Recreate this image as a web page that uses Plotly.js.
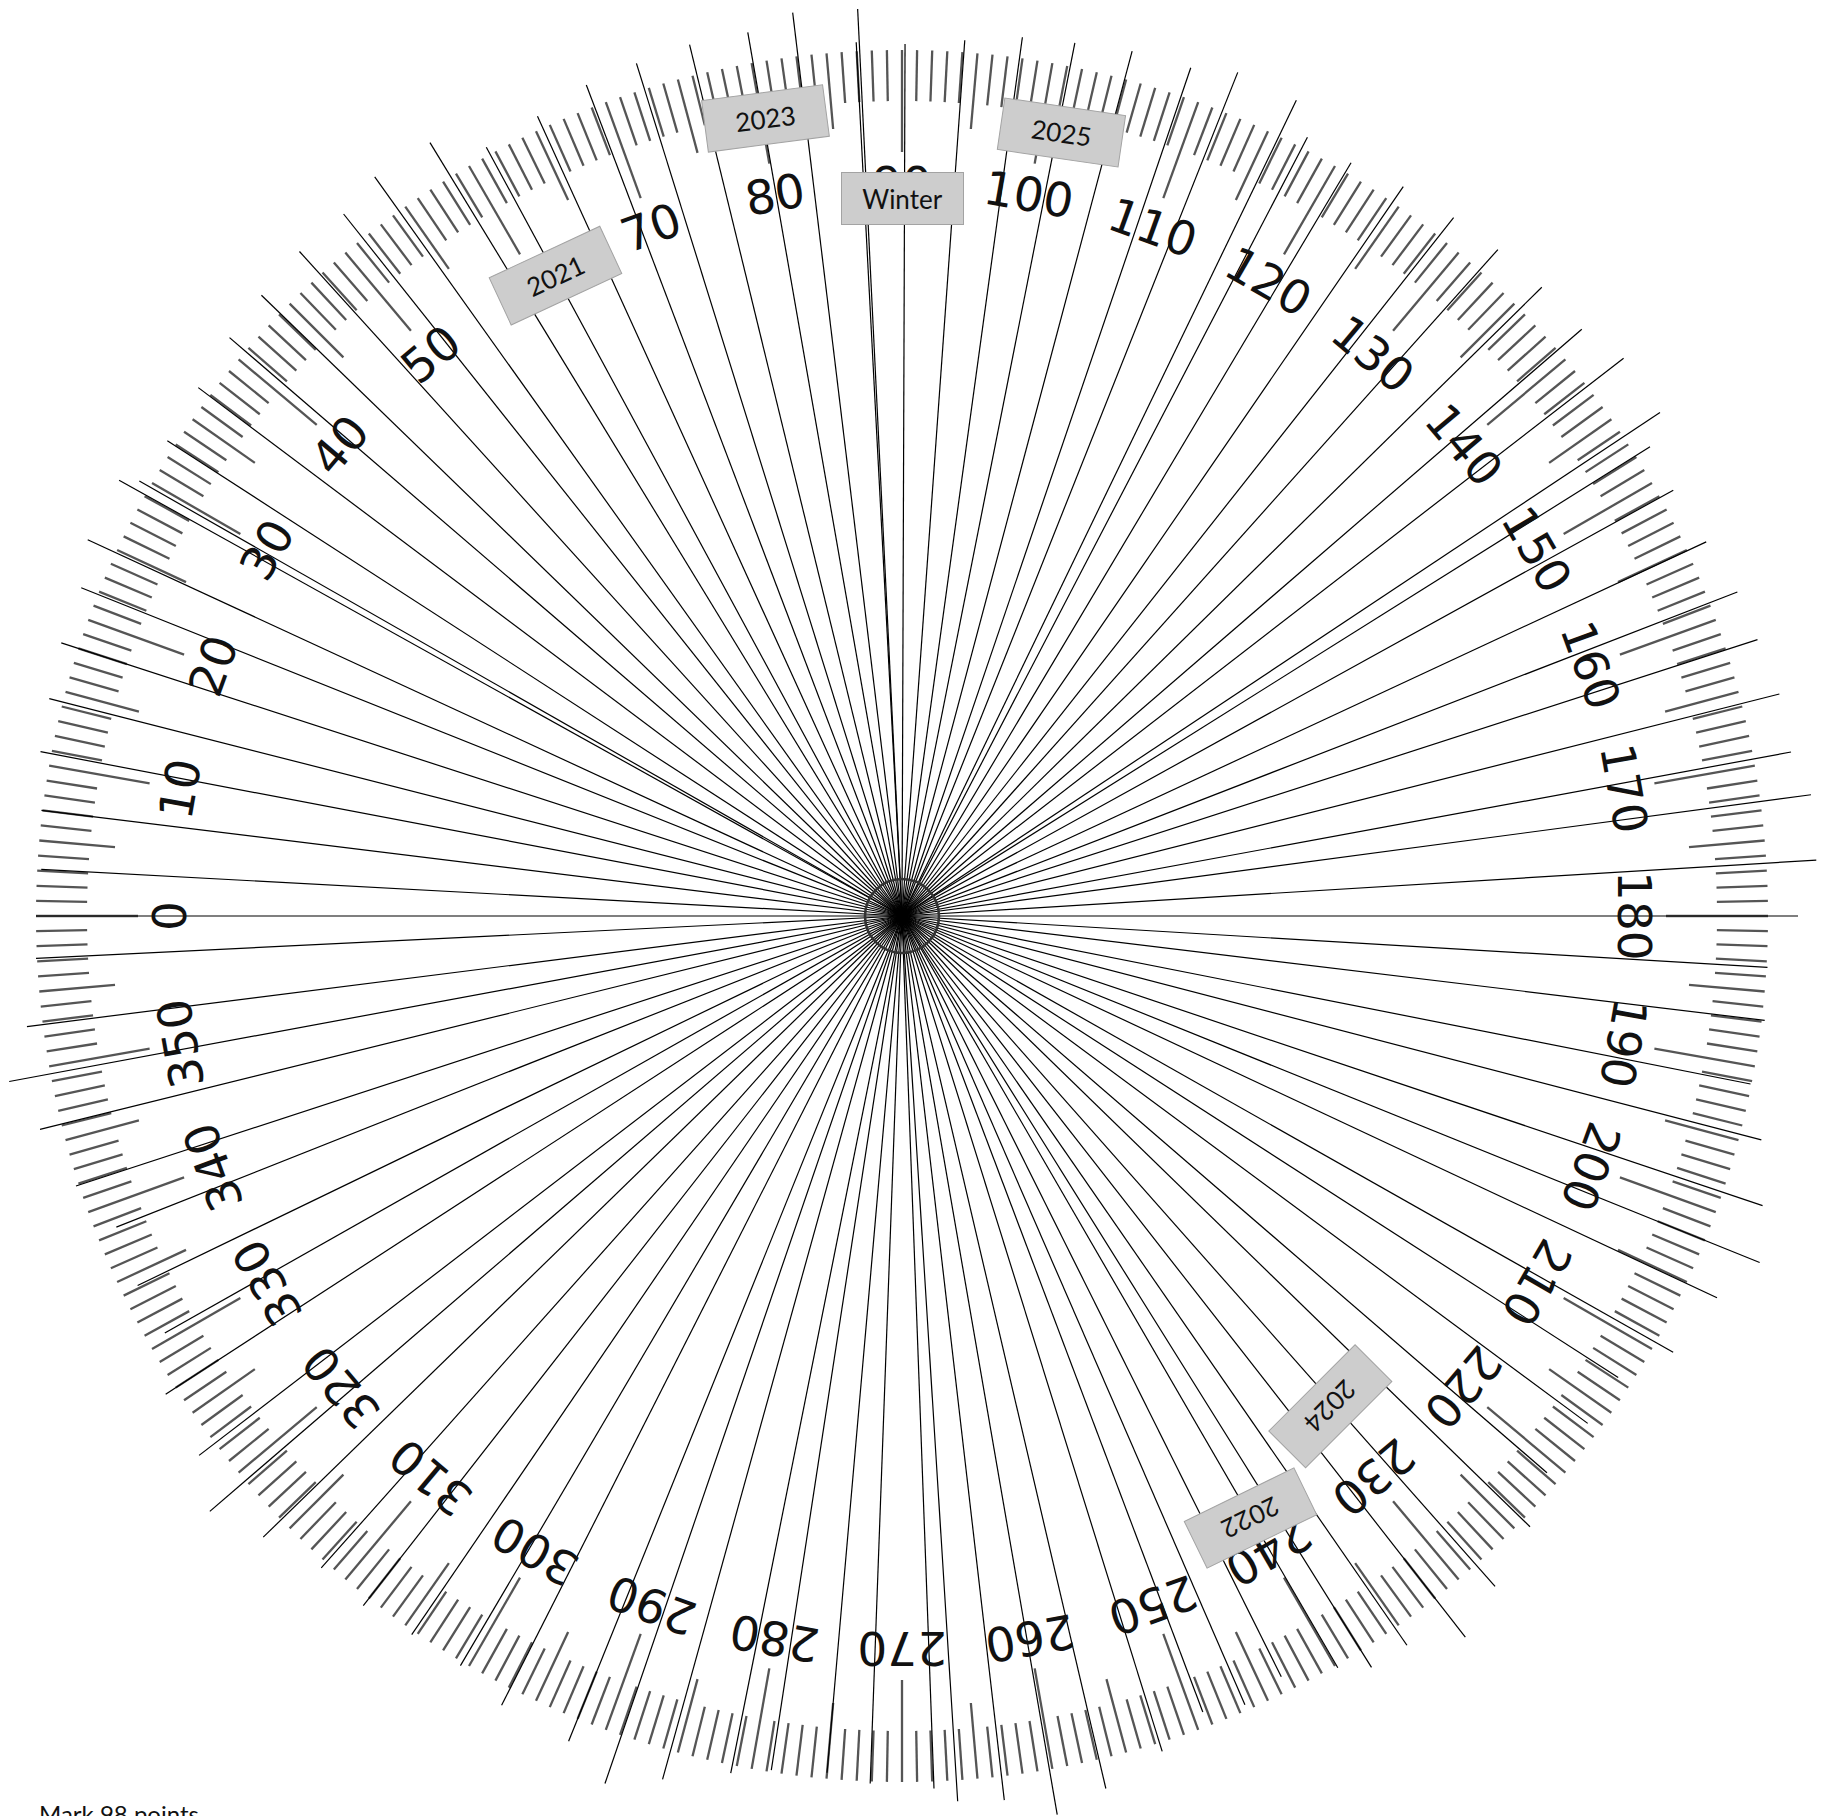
<!DOCTYPE html>
<html><head><meta charset="utf-8">
<script src="https://cdn.plot.ly/plotly-3.0.1.min.js"></script>
<style>html,body{margin:0;padding:0;background:#fff;overflow:hidden}#chart{width:1831px;height:1816px}</style>
</head><body><div id="chart"></div>
<script>
// Marked points: protractor angle (deg; 0 = left, 90 = top, 180 = right, 270 = bottom)
const pointAngles = [0,3.1,7,10.8,14.3,18,21.8,24.8,29.1,29.7,32.9,36.9,40.7,44.1,47.8,51.5,54.5,58.6,61.6,65.5,
  69.2,72.7,76.3,80.1,83.1,87,87.2,90.2,94.1,97.8,101.2,104.9,108.8,111.7,115.8,117.5,120.8,124.5,128.3,131.8,
  135.5,139.2,142.3,146.4,147.9,151.1,155.05,158.8,162.1,165.8,169.55,172.4,176.5,180,183.4,186.9,191.2,194.6,198.6,202,
  205.1,209.5,212.8,216.5,220.8,224.2,228.5,232,235.3,238,239.9,243.5,246.5,249.3,252.7,256.85,260.2,263.4,266.4,267.9,
  272.1,275,278.7,281.3,285.5,288.9,292,296.9,300.5,304.3,308,311.7,315.8,319.3,322.5,327,330.5,334.2,338.4,341.9,
  346.1,349.5,352.8,357.2];
// distance of each marked point from the protractor centre (px of the original drawing)
const pointLengths = [866,862,867,877,880,884,884,897,896,878,875,880,887,892,897,897,908,906,874,879,
  889,893,897,897,910,875,908,872,878,887,890,895,896,908,906,878,877,885,890,894,
  897,898,912,910,883,881,887,896,899,905,904,917,916,896,867,869,865,888,908,925,
  900,886,852,853,852,876,895,915,887,886,869,850,860,851,875,896,912,890,887,873,
  868,860,864,874,896,917,890,885,870,870,875,873,891,913,886,878,847,849,845,869,
  888,908,882,867];
// protractor scale labels
const scaleLabels = [0,10,20,30,40,50,60,70,80,90,100,110,120,130,140,150,160,170,
  180,190,200,210,220,230,240,250,260,270,280,290,300,310,320,330,340,350];
// tag boxes and the angle of the line each one sits on
const tagLabels = ['2021','2023','Winter','2025','2024','2022'];
const tagAngles = [61.6,80.25,90,101.5,228.9,239.9];
const captionText = 'Mark 98 points';

// ---------- presentation settings ----------
const W = 1831, H = 1816, CX = 902, CY = 916;
const tagRadius = [728,809,718,800,651,696];
const tagRotation = [-25,-7.5,0,8.3,135,154];
const RING = 866;

function xy(theta, r){
  const p = (180 - theta) * Math.PI / 180;
  return [r*Math.cos(p), r*Math.sin(p)];
}

// rays from centre to every marked point
const lx = [], ly = [];
pointAngles.forEach((a,i)=>{
  const [x,y] = xy(a, pointLengths[i]);
  lx.push(0, x, null); ly.push(0, y, null);
});

// protractor graduations
const tx = [], ty = [];
for (let d = 0; d < 360; d++){
  const rin = d % 10 === 0 ? 764 : (d % 5 === 0 ? 790 : 815);
  const [x0,y0] = xy(d, rin), [x1,y1] = xy(d, RING);
  tx.push(x0,x1,null); ty.push(y0,y1,null);
}

const traces = [
  {x:tx, y:ty, mode:'lines', line:{color:'#555', width:2.3}, hoverinfo:'skip', cliponaxis:false},
  {x:lx, y:ly, mode:'lines', line:{color:'#000', width:1.2}, hoverinfo:'skip', cliponaxis:false}
];

const annotations = [];
scaleLabels.forEach(v=>{
  const [x,y] = xy(v, 733);
  annotations.push({x, y, xref:'x', yref:'y', text:String(v), showarrow:false,
    xanchor:'center', yanchor:'middle', textangle: v - 90,
    font:{family:'DejaVu Sans', size:47, color:'#111'}});
});
tagLabels.forEach((t,i)=>{
  const [x,y] = xy(tagAngles[i], tagRadius[i]);
  annotations.push({x, y, xref:'x', yref:'y', text:t, showarrow:false,
    xanchor:'center', yanchor:'middle', textangle: tagRotation[i],
    width:119, height:49, borderpad:1, borderwidth:1,
    bgcolor:'#cdcdcd', bordercolor:'#a3a3a3',
    font:{family:'Lato', size:26, color:'#111'}});
});
annotations.push({x:37 - CX, y:CY - 1797, xref:'x', yref:'y', text:captionText, showarrow:false,
  xanchor:'left', yanchor:'top', font:{family:'Lato', size:24, color:'#111'}});

const layout = {
  width:W, height:H, margin:{l:0,r:0,t:0,b:0}, paper_bgcolor:'#fff', plot_bgcolor:'#fff',
  showlegend:false,
  xaxis:{range:[-CX, W-CX], visible:false, fixedrange:true},
  yaxis:{range:[CY-H, CY], visible:false, fixedrange:true},
  shapes:[{type:'circle', xref:'x', yref:'y', x0:-37, x1:37, y0:-37, y1:37,
    line:{color:'#333', width:2.6}}],
  annotations
};
Plotly.newPlot('chart', traces, layout, {staticPlot:true, displayModeBar:false});
</script></body></html>
